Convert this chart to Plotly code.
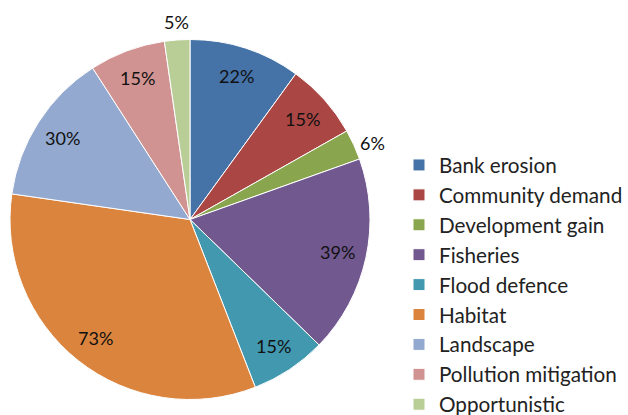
import math
import plotly.graph_objects as go

categories = ["Bank erosion", "Community demand", "Development gain", "Fisheries",
              "Flood defence", "Habitat", "Landscape", "Pollution mitigation", "Opportunistic"]
values = [22, 15, 6, 39, 15, 73, 30, 15, 5]
labels_text = ["22%", "15%", "6%", "39%", "15%", "73%", "30%", "15%", "5%"]
colors = ["#4572A7", "#AA4643", "#89A54E", "#71588F", "#4198AF",
          "#DB843D", "#93A9CF", "#D19392", "#B9CD96"]
label_outside = [False, False, True, False, False, False, False, False, True]

W, H = 628, 415
CX, CY, R = 190, 219.5, 180  # pie centre and radius in pixels

fig = go.Figure(go.Pie(
    labels=categories,
    values=values,
    text=labels_text,
    textinfo="none",
    sort=False,
    direction="clockwise",
    rotation=0,
    marker=dict(colors=colors, line=dict(color="white", width=1)),
    hoverinfo="label+text",
    domain=dict(x=[(CX - R) / W, (CX + R) / W],
                y=[(H - (CY + R)) / H, (H - (CY - R)) / H]),
))

# percentage labels placed at each slice's mid angle (derived from the values)
total = sum(values)
cum = 0
annotations = []
for v, t, out in zip(values, labels_text, label_outside):
    mid = (cum + v / 2) / total * 2 * math.pi
    cum += v
    s, c = math.sin(mid), math.cos(mid)
    if out:
        r = R + 5
        xa = "left" if s > 0.5 else ("right" if s < -0.5 else "center")
        ya = "bottom" if c > 0.5 else ("top" if c < -0.5 else "middle")
    else:
        r = 0.84 * R
        xa, ya = "center", "middle"
    px, py = CX + r * s, CY - r * c
    annotations.append(dict(
        x=px / W, y=1 - py / H, xref="paper", yref="paper",
        text=t, showarrow=False, xanchor=xa, yanchor=ya,
        font=dict(family="Lato", size=18, color="#111111"),
    ))

fig.update_layout(
    width=W, height=H,
    margin=dict(l=0, r=0, t=0, b=0, autoexpand=False),
    paper_bgcolor="white",
    plot_bgcolor="white",
    font=dict(family="Lato", color="#222222"),
    annotations=annotations,
    legend=dict(
        x=399 / W, xanchor="left",
        y=1 - 145 / H, yanchor="top",
        font=dict(family="Lato", size=20.7, color="#222222"),
        bgcolor="rgba(0,0,0,0)",
        itemwidth=30,
        maxheight=1000,
    ),
    showlegend=True,
)

fig.write_html("out.html", config={"displayModeBar": False},
               post_script="document.body.style.margin='0';")
